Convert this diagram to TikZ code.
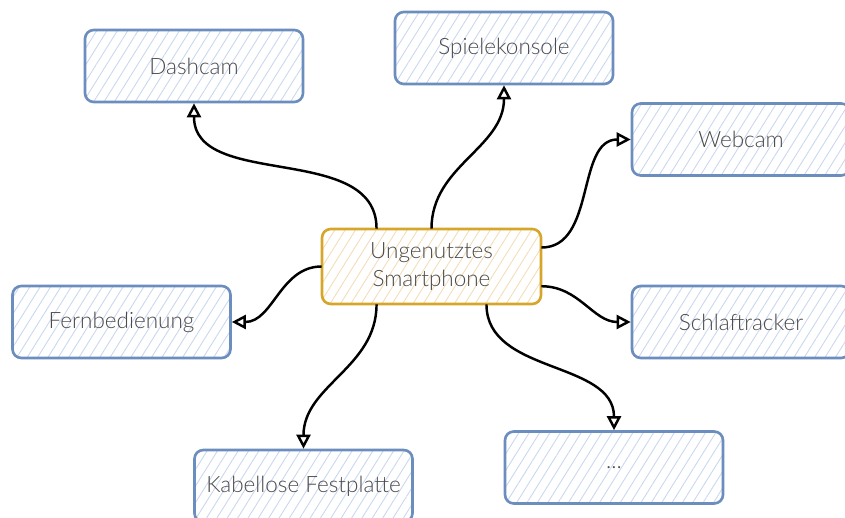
\documentclass[tikz,border=0pt]{standalone}
\usepackage{fontspec}
\setmainfont{Lato Light}
\usetikzlibrary{arrows.meta,patterns.meta,calc}

\definecolor{boxblue}{HTML}{6C8EBF}
\definecolor{hatchblue}{HTML}{C9D7EE}
\definecolor{boxgold}{HTML}{D6A62A}
\definecolor{hatchgold}{HTML}{F3DDB5}
\definecolor{txtgray}{HTML}{4A4A4A}

\tikzset{
	item/.style={draw=boxblue, line width=1.5pt, rounded corners=5pt,
		pattern={Lines[angle=58,distance=5pt,line width=0.5pt]}, pattern color=hatchblue,
		minimum width=4.36cm, minimum height=1.44cm, align=center,
		text=txtgray, font=\fontsize{12.8}{16}\selectfont},
	hub/.style={item, draw=boxgold, pattern color=hatchgold,
		minimum width=4.38cm, minimum height=1.5cm},
	link/.style={line width=1.4pt, -{Triangle[open,length=8pt,width=8pt]}}
}

\begin{document}
\begin{tikzpicture}
	\useasboundingbox (0,0) rectangle (16.9,10.34);
	% centre
	\node[hub] (phone) at (8.63,5.01) {Ungenutztes\\Smartphone};
	% uses around it
	\node[item] (dashcam) at (3.88,9.02) {Dashcam};
	\node[item] (konsole) at (10.08,9.38) {Spielekonsole};
	\node[item] (webcam) at (14.82,7.55) {Webcam};
	\node[item] (fernbed) at (2.43,3.9) {Fernbedienung};
	\node[item] (schlaf) at (14.82,3.9) {Schlaftracker};
	\node[item] (platte) at (6.07,0.62) {Kabellose Festplatte};
	\node[item] (mehr) at (12.28,0.99) {...};
	
	% connectors
	\draw[link] ($(phone.north west)!.25!(phone.north east)$) to[out=90,in=-90] (dashcam.south);
	\draw[link] (phone.north) to[out=90,in=-90] (konsole.south);
	\draw[link] ($(phone.north east)!.25!(phone.south east)$) to[out=0,in=180] (webcam.west);
	\draw[link] (phone.west) to[out=180,in=0] (fernbed.east);
	\draw[link] ($(phone.north east)!.76!(phone.south east)$) to[out=0,in=180] (schlaf.west);
	\draw[link] ($(phone.south west)!.25!(phone.south east)$) to[out=-90,in=90] (platte.north);
	\draw[link] ($(phone.south west)!.75!(phone.south east)$) to[out=-90,in=90] (mehr.north);
\end{tikzpicture}
\end{document}
